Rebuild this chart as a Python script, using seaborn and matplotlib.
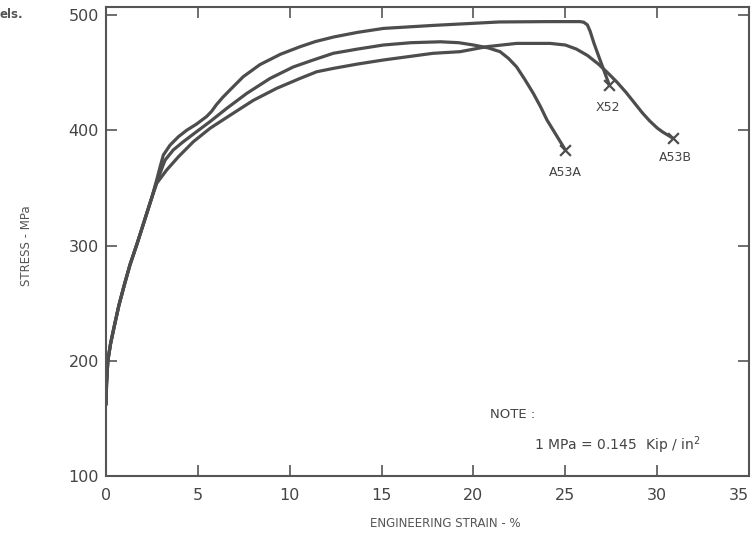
import matplotlib
matplotlib.use("Agg")
import matplotlib.pyplot as plt
import seaborn as sns
import pandas as pd

sns.set_theme(style="ticks")
plt.rcParams.update({
    'font.family': ['DejaVu Sans'],
    'axes.edgecolor': '#555555',
    'xtick.color': '#555555',
    'ytick.color': '#555555',
})

# Engineering strain (%) / stress (MPa)
SHARED_STRAIN = [0.0, 0.03, 0.1, 0.25, 0.45, 0.7, 1.0, 1.3, 1.7, 2.1, 2.5]
SHARED_STRESS = [162, 180, 200, 215, 230, 248, 266, 283, 302, 322, 342]

X52_STRAIN = [2.76, 2.94, 3.12, 3.48, 3.94, 4.39, 4.93, 5.48, 5.75, 6.0, 6.35,
              6.75, 7.47, 8.38, 9.5, 10.56, 11.4, 12.4, 13.7, 15.1, 17.8,
              21.4, 24.0, 25.8, 26.0, 26.2, 26.35, 26.55, 26.8, 27.1, 27.4]
X52_STRESS = [357, 368, 378.5, 387, 394.4, 400, 405.4, 412, 416.5, 422, 428.5,
              435, 446.5, 457, 466, 472.5, 477, 481, 485, 488.4, 491,
              494, 494.3, 494.3, 493.8, 491.5, 486, 476, 465, 452, 439]

A53A_STRAIN = [2.76, 3.21, 3.66, 4.2, 4.93, 5.66, 6.57, 7.66, 8.93, 10.2,
               11.28, 12.37, 13.7, 15.1, 16.6, 18.2, 19.2, 20.0, 20.8, 21.45,
               21.9, 22.35, 22.8, 23.26, 23.65, 24.0, 24.5, 25.0]
A53A_STRESS = [355, 374, 382.9, 390, 398.8, 407.5, 419, 432, 445, 455, 461,
               466.8, 470.5, 474, 476, 476.8, 476, 474, 471.5, 468.2, 462.5,
               455, 444, 432, 420.5, 409, 396, 383]

A53B_STRAIN = [2.76, 3.3, 3.94, 4.75, 5.66, 6.75, 8.02, 9.29, 10.56, 11.47,
               12.37, 13.7, 15.1, 16.5, 17.8, 19.27, 20.7, 22.35, 24.17, 25.0,
               25.6, 26.2, 26.8, 27.3, 27.8, 28.3, 28.7, 29.2, 29.6, 30.0,
               30.3, 30.87]
A53B_STRESS = [354, 365.5, 377, 390, 401.7, 413, 426, 436.4, 445, 450.8,
               453.7, 457.5, 461, 464, 466.8, 468.2, 472.5, 475.4, 475.4, 474,
               470.5, 465, 457.5, 450, 442, 433, 425, 415, 408, 402,
               398.5, 393]

SPECIMENS = ["X52", "A53A", "A53B"]
LABEL_POS = {"X52": (27.3, 420), "A53A": (25.0, 363), "A53B": (31.0, 376)}

X_TICKS = [0, 5, 10, 15, 20, 25, 30, 35]
Y_TICKS = [100, 200, 300, 400, 500]

LINE_COLOR = "#4d4d4d"
TEXT_COLOR = "#444444"


def main():
    curves = {
        "X52": (SHARED_STRAIN + X52_STRAIN, SHARED_STRESS + X52_STRESS),
        "A53A": (SHARED_STRAIN + A53A_STRAIN, SHARED_STRESS + A53A_STRESS),
        "A53B": (SHARED_STRAIN + A53B_STRAIN, SHARED_STRESS + A53B_STRESS),
    }
    frames = []
    for name in SPECIMENS:
        xs, ys = curves[name]
        frames.append(pd.DataFrame({"strain": xs, "stress": ys, "specimen": name}))
    df = pd.concat(frames, ignore_index=True)

    fig = plt.figure(figsize=(7.54, 5.33), dpi=100)
    ax = fig.add_axes([0.1406, 0.107, 0.8528, 0.8799])

    sns.lineplot(data=df, x="strain", y="stress", hue="specimen",
                 palette={s: LINE_COLOR for s in SPECIMENS}, sort=False,
                 estimator=None, linewidth=2.3, legend=False, ax=ax)

    # fracture points
    ends = pd.DataFrame({
        "strain": [curves[s][0][-1] for s in SPECIMENS],
        "stress": [curves[s][1][-1] for s in SPECIMENS],
    })
    sns.scatterplot(data=ends, x="strain", y="stress", marker="x", s=60,
                    color=LINE_COLOR, linewidth=1.6, ax=ax, zorder=5)

    for name in SPECIMENS:
        lx, ly = LABEL_POS[name]
        ax.text(lx, ly, name, ha="center", va="center", fontsize=9,
                color=TEXT_COLOR)

    ax.text(20.9, 153, "NOTE :", fontsize=9.5, color=TEXT_COLOR, va="center")
    ax.text(23.3, 127, "1 MPa = 0.145  Kip / in$^{2}$", fontsize=10,
            color=TEXT_COLOR, va="center")

    ax.set_xlim(0, 35)
    ax.set_ylim(100, 507)
    ax.set_xticks(X_TICKS)
    ax.set_yticks(Y_TICKS)
    ax.tick_params(direction="in", top=True, right=True, length=8, width=1.2,
                   labelsize=11.5, labelcolor=TEXT_COLOR)
    ax.tick_params(axis="x", pad=9)
    ax.tick_params(axis="y", pad=5)
    ax.get_xticklabels()[-1].set_horizontalalignment("right")
    for sp in ax.spines.values():
        sp.set_linewidth(1.5)

    ax.set_xlabel("ENGINEERING STRAIN - %", fontsize=8.5, color="#555555")
    ax.set_ylabel("STRESS - MPa", fontsize=8.5, color="#555555")
    ax.xaxis.set_label_coords(0.527, -0.088)
    ax.yaxis.set_label_coords(-0.114, 0.49)

    fig.text(0.0, 1 - 15 / 533, "els.", fontsize=8.5, color="#555555",
             weight="bold", va="center", ha="left")

    fig.savefig("out.png", dpi=100)
    plt.close(fig)


if __name__ == "__main__":
    main()
